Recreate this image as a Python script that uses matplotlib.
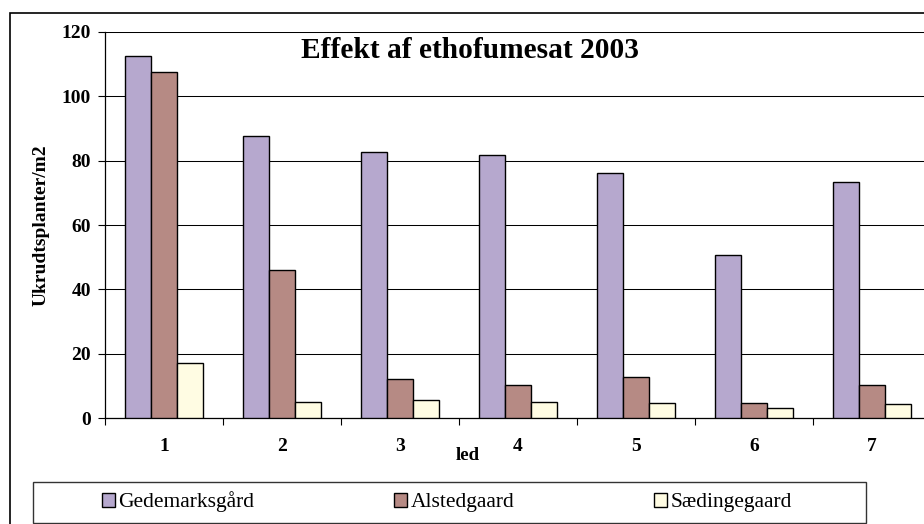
import matplotlib
matplotlib.use('Agg')
import matplotlib.pyplot as plt
from matplotlib.patches import Rectangle, Patch
import numpy as np

led = ['1', '2', '3', '4', '5', '6', '7']
gedemarksgaard = [112.6, 87.7, 82.6, 81.7, 76.0, 50.6, 73.4]
alstedgaard = [107.5, 45.9, 12.1, 10.4, 12.9, 4.9, 10.2]
saedingegaard = [17.1, 5.2, 5.6, 5.0, 4.7, 3.2, 4.3]

serie_navne = ['Gedemarksgård', 'Alstedgaard', 'Sædingegaard']
farver = ['#B6A8CE', '#B68A84', '#FFFCE3']

plt.rcParams['font.family'] = ['Liberation Serif', 'DejaVu Serif']

fig = plt.figure(figsize=(9.24, 5.24), dpi=100)
W, H = 924, 524

# plot area in pixels: left 105, right 931 (runs past the edge), y 31.7..418.3
ax = fig.add_axes([105 / W, (H - 418.3) / H, 826 / W, (418.3 - 31.7) / H])

x = np.arange(len(led)) + 0.5
bredde = 0.223
for k, (vals, farve, navn) in enumerate(zip([gedemarksgaard, alstedgaard, saedingegaard], farver, serie_navne)):
    ax.bar(x + (k - 1) * bredde, vals, width=bredde, color=farve,
           edgecolor='black', linewidth=1.0, label=navn, zorder=3)

ax.set_xlim(0, len(led))
ax.set_ylim(0, 120)
ax.set_yticks(range(0, 121, 20))
ax.yaxis.grid(True, color='black', linewidth=0.75, zorder=0)
ax.set_axisbelow(True)

ax.set_xticks(x)
ax.set_xticklabels(led, fontsize=14, fontweight='bold')
ax.set_xticks(np.arange(0, len(led) + 1), minor=True)
ax.tick_params(axis='x', which='major', length=0, pad=14)
ax.tick_params(axis='x', which='minor', length=5, width=0.8, direction='out')
ax.tick_params(axis='y', length=5, width=0.8, pad=5)
for lbl in ax.get_yticklabels():
    lbl.set_fontsize(14)
    lbl.set_fontweight('bold')

for side in ['top', 'right']:
    ax.spines[side].set_visible(False)
ax.spines['left'].set_linewidth(0.9)
ax.spines['bottom'].set_linewidth(0.9)

ax.set_ylabel('Ukrudtsplanter/m2', fontsize=14, fontweight='bold')
ax.yaxis.set_label_coords((50 - 105) / 826, 0.5)
ax.set_xlabel('led', fontsize=13.5, fontweight='bold')
ax.xaxis.set_label_coords((468 - 105) / 826, (418.3 - 446.5) / 386.6)

fig.text(470 / W, 1 - 50 / H, 'Effekt af ethofumesat 2003', fontsize=21.2,
         fontweight='bold', ha='center', va='center')

# outer chart frame, cut by the image edge on the right and bottom
fig.patches.append(Rectangle((9.5 / W, -0.1), 1.2, (H - 13.3) / H + 0.1,
                             transform=fig.transFigure, fill=False,
                             edgecolor='black', linewidth=1.2))

# legend box
fig.patches.append(Rectangle((32.5 / W, (H - 522.7) / H), (865.7 - 32.5) / W, 41 / H,
                             transform=fig.transFigure, fill=False,
                             edgecolor='#333333', linewidth=1.0))
handles = [Patch(facecolor=f, edgecolor='black', linewidth=1.0) for f in farver]
fig.legend(handles, serie_navne, loc='center', bbox_to_anchor=(447 / W, 1 - 502 / H),
           ncol=3, frameon=False, fontsize=15.5, handlelength=0.6, handleheight=0.6,
           handletextpad=0.15, columnspacing=6.5, borderpad=0)

fig.savefig('out.png', dpi=100)
